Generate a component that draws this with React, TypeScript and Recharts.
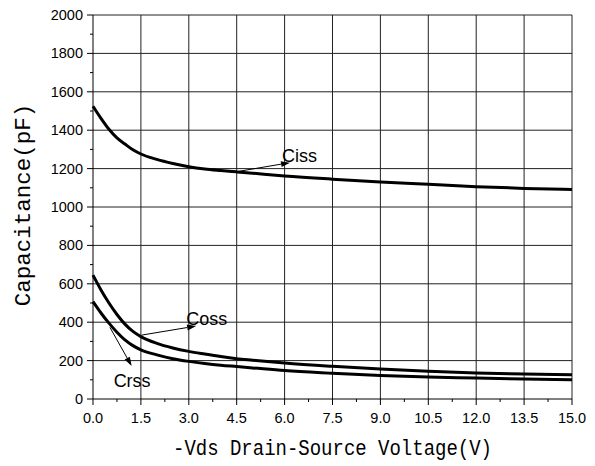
import React from 'react';
import { LineChart, Line, XAxis, YAxis, ReferenceLine } from 'recharts';

// -Vds (V)
const voltages = [0, 0.25, 0.5, 0.75, 1.0, 1.25, 1.5, 2.0, 2.5, 3.0, 3.5, 4.0, 4.5, 5.0, 6.0, 7.5, 9.0, 10.5, 12.0, 13.5, 15.0];
// capacitance (pF)
const cissValues = [1525, 1462, 1405, 1360, 1328, 1298, 1276, 1248, 1227, 1210, 1198, 1190, 1183, 1176, 1162, 1145, 1130, 1118, 1106, 1097, 1091];
const cossValues = [645, 568, 500, 440, 390, 352, 325, 290, 266, 248, 234, 221, 210, 202, 187, 170, 156, 144, 135, 130, 126];
const crssValues = [507, 448, 395, 348, 308, 278, 256, 230, 210, 196, 185, 176, 169, 162, 148, 134, 122, 114, 109, 104, 100];

const xMajorTicks = [0, 1.5, 3, 4.5, 6, 7.5, 9, 10.5, 12, 13.5, 15];
const xMinorTicks = [0.75, 2.25, 3.75, 5.25, 6.75, 8.25, 9.75, 11.25, 12.75, 14.25];
const yMajorTicks = [0, 200, 400, 600, 800, 1000, 1200, 1400, 1600, 1800, 2000];
const yMinorTicks = [100, 300, 500, 700, 900, 1100, 1300, 1500, 1700, 1900];

// arrow annotations: [V, pF] of arrow tail and head
const annotationNames = ['Ciss', 'Coss', 'Crss'];
const annotationFrom = [[4.5, 1184], [1.53, 333], [0.53, 373]];
const annotationTo = [[6.17, 1231], [3.23, 380], [1.21, 172]];

const data = voltages.map((v, i) => ({
  v,
  ciss: cissValues[i],
  coss: cossValues[i],
  crss: crssValues[i],
}));

const xTicks = [...xMajorTicks, ...xMinorTicks].sort((a, b) => a - b);
const yTicks = [...yMajorTicks, ...yMinorTicks].sort((a, b) => a - b);

const TICK_FONT = "'Liberation Sans', Arial, sans-serif";
const TITLE_FONT = "'Liberation Mono', 'DejaVu Sans Mono', monospace";

// where each label sits relative to its arrow head
const labelOffsets: Record<string, [number, number]> = {
  Ciss: [-8, -1],
  Coss: [-10, -1],
  Crss: [-18, 21],
};

const XTick = ({ x, y, payload }: any) => {
  const major = xMajorTicks.includes(payload.value);
  return (
    <g>
      <line x1={x} x2={x} y1={y} y2={y + (major ? 6 : 3)} stroke="#000" strokeWidth={1} />
      {major && (
        <text x={x} y={y + 24} textAnchor="middle" fontFamily={TICK_FONT} fontSize={14.5} fill="#000">
          {payload.value.toFixed(1)}
        </text>
      )}
    </g>
  );
};

const YTick = ({ x, y, payload }: any) => {
  const major = yMajorTicks.includes(payload.value);
  return (
    <g>
      <line x1={x - (major ? 6 : 3)} x2={x} y1={y} y2={y} stroke="#000" strokeWidth={1} />
      {major && (
        <text x={x - 10} y={y + 5} textAnchor="end" fontFamily={TICK_FONT} fontSize={14.5} fill="#000">
          {payload.value}
        </text>
      )}
    </g>
  );
};

const XTitle = ({ viewBox }: any) => {
  const cx = viewBox.x + viewBox.width / 2;
  const by = viewBox.y + 56;
  return (
    <text
      transform={`translate(${cx},${by}) scale(1,1.2)`}
      textAnchor="middle"
      fontFamily={TITLE_FONT}
      fontSize={19}
      fill="#000"
    >
      -Vds Drain-Source Voltage(V)
    </text>
  );
};

const YTitle = () => {
  const bx = 30;
  const cy = 205;
  return (
    <text
      transform={`translate(${bx},${cy}) rotate(-90)`}
      textAnchor="middle"
      fontFamily={TITLE_FONT}
      fontSize={22.5}
      fill="#000"
    >
      Capacitance(pF)
    </text>
  );
};

const arrowShape = (name: string) => (props: any) => {
  const { x1, y1, x2, y2 } = props;
  const ang = Math.atan2(y2 - y1, x2 - x1);
  const len = 9;
  const hw = 3;
  const bx = x2 - len * Math.cos(ang);
  const by = y2 - len * Math.sin(ang);
  const p1 = `${bx + hw * Math.sin(ang)},${by - hw * Math.cos(ang)}`;
  const p2 = `${bx - hw * Math.sin(ang)},${by + hw * Math.cos(ang)}`;
  const [dx, dy] = labelOffsets[name];
  return (
    <g>
      <line x1={x1} y1={y1} x2={bx} y2={by} stroke="#000" strokeWidth={1} />
      <polygon points={`${x2},${y2} ${p1} ${p2}`} fill="#000" />
      <text x={x2 + dx} y={y2 + dy} fontFamily={TICK_FONT} fontSize={18} fill="#000">
        {name}
      </text>
    </g>
  );
};

export default function App() {
  return (
    <div style={{ position: 'absolute', left: 0, top: 0, width: 595, height: 466, background: '#fff' }}>
      <LineChart width={595} height={466} data={data} margin={{ top: 15, right: 23, bottom: 0, left: 0 }}>
        <XAxis
          dataKey="v"
          type="number"
          domain={[0, 15]}
          ticks={xTicks}
          interval={0}
          tickLine={false}
          tickSize={0}
          tickMargin={0}
          tick={<XTick />}
          axisLine={{ stroke: '#000', strokeWidth: 1 }}
          height={67}
          label={{ content: (p: any) => <XTitle {...p} /> }}
        />
        <YAxis
          type="number"
          domain={[0, 2000]}
          ticks={yTicks}
          interval={0}
          tickLine={false}
          tickSize={0}
          tickMargin={0}
          tick={<YTick />}
          axisLine={{ stroke: '#000', strokeWidth: 1 }}
          width={93}
          label={{ content: () => <YTitle /> }}
        />
        {xMajorTicks.filter((t) => t > 0).map((t) => (
          <ReferenceLine key={`gx-${t}`} x={t} stroke="#222" strokeWidth={1} />
        ))}
        {yMajorTicks.filter((t) => t > 0).map((t) => (
          <ReferenceLine key={`gy-${t}`} y={t} stroke="#222" strokeWidth={1} />
        ))}
        <Line type="monotone" dataKey="ciss" stroke="#000" strokeWidth={3} dot={false} isAnimationActive={false} />
        <Line type="monotone" dataKey="coss" stroke="#000" strokeWidth={3} dot={false} isAnimationActive={false} />
        <Line type="monotone" dataKey="crss" stroke="#000" strokeWidth={3} dot={false} isAnimationActive={false} />
        {annotationNames.map((name, i) => (
          <ReferenceLine
            key={`ann-${name}`}
            segment={[
              { x: annotationFrom[i][0], y: annotationFrom[i][1] },
              { x: annotationTo[i][0], y: annotationTo[i][1] },
            ]}
            shape={arrowShape(name)}
          />
        ))}
      </LineChart>
    </div>
  );
}
